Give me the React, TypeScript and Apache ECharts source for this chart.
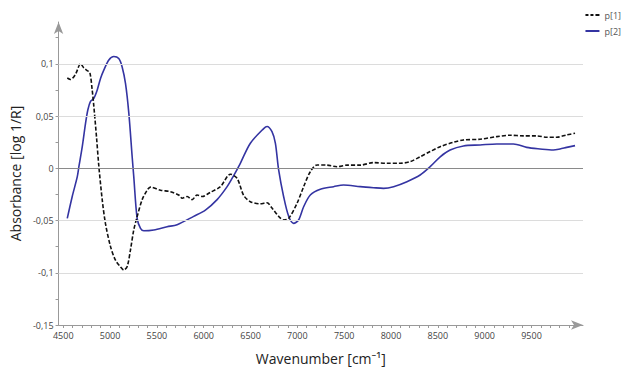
import React, { useEffect, useRef } from "react";
import * as echarts from "echarts";

const p1Wavenumbers = [4543, 4578, 4631, 4685, 4720, 4756, 4784, 4809, 4827, 4855, 4880, 4916, 4951, 5005, 5058, 5111, 5147, 5183, 5218, 5253, 5290, 5343, 5396, 5431, 5538, 5645, 5733, 5770, 5823, 5876, 5929, 5983, 6071, 6178, 6285, 6356, 6427, 6498, 6605, 6676, 6729, 6800, 6853, 6907, 6996, 7067, 7138, 7210, 7316, 7423, 7530, 7671, 7813, 7956, 8098, 8205, 8311, 8418, 8525, 8667, 8773, 8951, 9130, 9271, 9413, 9556, 9663, 9769, 9876, 9965];
const p1Values = [0.0864, 0.085, 0.09, 0.1, 0.096, 0.0935, 0.0916, 0.075, 0.059, 0.03, 0.002, -0.03, -0.053, -0.075, -0.088, -0.0943, -0.0974, -0.094, -0.078, -0.059, -0.046, -0.03, -0.021, -0.018, -0.021, -0.0224, -0.0256, -0.0287, -0.027, -0.03, -0.0256, -0.027, -0.023, -0.0176, -0.0057, -0.0096, -0.026, -0.032, -0.034, -0.033, -0.038, -0.046, -0.0495, -0.048, -0.0336, -0.0176, -0.0033, 0.0032, 0.003, 0.0015, 0.003, 0.003, 0.0054, 0.0048, 0.0048, 0.0064, 0.011, 0.016, 0.0207, 0.0249, 0.0271, 0.0278, 0.0303, 0.0316, 0.031, 0.031, 0.0297, 0.0297, 0.0319, 0.0335];

const p2Wavenumbers = [4543, 4596, 4650, 4667, 4703, 4738, 4763, 4791, 4827, 4863, 4898, 4933, 4987, 5040, 5093, 5129, 5165, 5200, 5236, 5253, 5289, 5325, 5360, 5467, 5609, 5716, 5893, 6018, 6143, 6250, 6320, 6391, 6498, 6640, 6676, 6729, 6765, 6800, 6853, 6907, 6960, 7013, 7067, 7138, 7245, 7387, 7493, 7671, 7813, 7920, 8027, 8170, 8311, 8418, 8525, 8631, 8773, 8951, 9130, 9307, 9449, 9591, 9733, 9804, 9876, 9965];
const p2Values = [-0.048, -0.027, -0.008, 0.0015, 0.0207, 0.043, 0.056, 0.064, 0.067, 0.075, 0.086, 0.094, 0.1037, 0.107, 0.105, 0.097, 0.081, 0.053, 0.011, -0.008, -0.048, -0.0575, -0.0598, -0.059, -0.056, -0.054, -0.046, -0.04, -0.03, -0.0176, -0.007, 0.0048, 0.024, 0.038, 0.04, 0.035, 0.024, -0.0016, -0.027, -0.046, -0.0527, -0.0495, -0.0368, -0.0256, -0.02, -0.0176, -0.016, -0.0176, -0.0186, -0.0192, -0.0176, -0.0128, -0.0064, 0.0015, 0.011, 0.0175, 0.0214, 0.0223, 0.0233, 0.0233, 0.02, 0.0185, 0.0175, 0.0185, 0.02, 0.0217];

const xTickLabels = [4500, 5000, 5500, 6000, 6500, 7000, 7500, 8000, 8500, 9000, 9500];
const xMinorTicks = [4500, 4600, 4700, 4800, 4900, 5000, 5100, 5200, 5300, 5400, 5500, 5600, 5700, 5800, 5900, 6000, 6100, 6200, 6300, 6400, 6500, 6600, 6700, 6800, 6900, 7000, 7100, 7200, 7300, 7400, 7500, 7600, 7700, 7800, 7900, 8000, 8100, 8200, 8300, 8400, 8500, 8600, 8700, 8800, 8900, 9000, 9100, 9200, 9300, 9400, 9500, 9600, 9700, 9800, 9900];
const yTickLabels = [-0.15, -0.1, -0.05, 0, 0.05, 0.1];
const yMinorTicks = [-0.15, -0.125, -0.1, -0.075, -0.05, -0.025, 0, 0.025, 0.05, 0.075, 0.1, 0.125];
const gridValues = [-0.1, -0.05, 0.05, 0.1];

const FONT = "'Open Sans', 'Noto Sans', sans-serif";

export default function App() {
  const ref = useRef<HTMLDivElement>(null);
  useEffect(() => {
    if (!ref.current) return;
    const chart = echarts.init(ref.current, null, { renderer: "svg" });
    const p1 = p1Wavenumbers.map((w, i) => [w, p1Values[i]]);
    const p2 = p2Wavenumbers.map((w, i) => [w, p2Values[i]]);
    chart.setOption({
      animation: false,
      textStyle: { fontFamily: FONT },
      grid: { left: 58, right: 39, top: 22, bottom: 47 },
      legend: {
        orient: "vertical",
        right: 1,
        top: 9,
        padding: 0,
        itemWidth: 14,
        itemHeight: 2,
        itemGap: 4,
        itemStyle: { borderWidth: 0 },
        textStyle: { fontSize: 9, color: "#555", fontFamily: FONT, lineHeight: 12 },
        data: [
          { name: "p[1]", icon: "path://M0,0h3v2h-3zM5,0h3v2h-3zM10,0h4v2h-4z" },
          { name: "p[2]", icon: "rect" },
        ],
      },
      xAxis: {
        type: "value",
        min: 4450,
        max: 10050,
        name: "Wavenumber [cm⁻¹]",
        nameLocation: "middle",
        nameGap: 26,
        nameTextStyle: { fontSize: 14, color: "#222", fontFamily: FONT },
        axisLine: {
          show: true,
          onZero: false,
          symbol: ["none", "arrow"],
          symbolSize: [7, 12],
          lineStyle: { color: "#999", width: 1 },
        },
        axisTick: { show: true, length: 3, customValues: xMinorTicks, lineStyle: { color: "#999" } },
        axisLabel: {
          customValues: xTickLabels,
          fontSize: 9,
          color: "#444",
          margin: 6,
          fontFamily: FONT,
          formatter: (v: number) => String(v),
        },
        splitLine: { show: false },
      },
      yAxis: {
        type: "value",
        min: -0.15,
        max: 0.14,
        name: "Absorbance [log 1/R]",
        nameLocation: "middle",
        nameGap: 25,
        nameRotate: 90,
        nameTextStyle: { fontSize: 14, color: "#222", fontFamily: FONT },
        axisLine: {
          show: true,
          onZero: false,
          symbol: ["none", "arrow"],
          symbolSize: [7, 12],
          lineStyle: { color: "#999", width: 1 },
        },
        axisTick: { show: true, length: 3, customValues: yMinorTicks, lineStyle: { color: "#999" } },
        axisLabel: {
          customValues: yTickLabels,
          fontSize: 9,
          color: "#444",
          margin: 5,
          fontFamily: FONT,
          formatter: (v: number) => String(Math.round(v * 1000) / 1000).replace(".", ","),
        },
        splitLine: { show: false },
      },
      series: [
        {
          name: "p[1]",
          type: "line",
          data: p1,
          symbol: "none",
          smooth: 0.3,
          lineStyle: { color: "#111", width: 1.6, type: [4, 2] },
          itemStyle: { color: "#111" },
          z: 3,
          markLine: {
            silent: true,
            symbol: "none",
            label: { show: false },
            animation: false,
            data: [
              ...gridValues.map((v) => ({ yAxis: v, lineStyle: { color: "#dcdcdc", width: 1, type: "solid" } })),
              { yAxis: 0, lineStyle: { color: "#8a8a8a", width: 1, type: "solid" } },
            ],
          },
        },
        {
          name: "p[2]",
          type: "line",
          data: p2,
          symbol: "none",
          smooth: 0.3,
          lineStyle: { color: "#3434a2", width: 1.6 },
          itemStyle: { color: "#3434a2" },
          z: 2,
        },
      ],
    });
    return () => chart.dispose();
  }, []);
  return <div ref={ref} style={{ width: 622, height: 372, position: "absolute", left: 0, top: 0 }} />;
}
